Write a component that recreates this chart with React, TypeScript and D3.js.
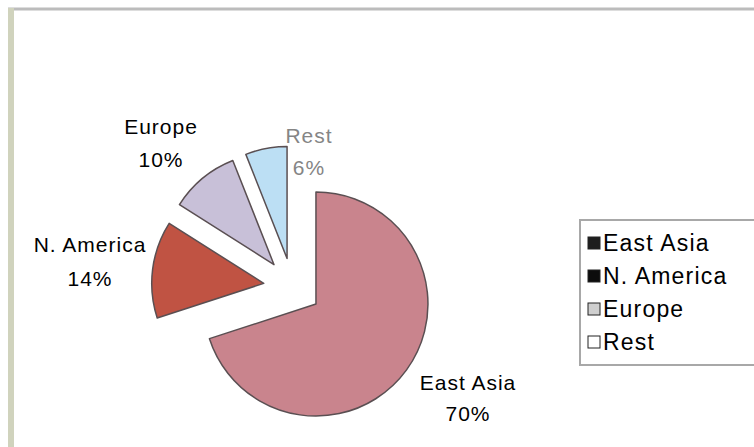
import React from "react";
import * as d3 from "d3";

const categories = ["East Asia", "N. America", "Europe", "Rest"];
const values = [70, 14, 10, 6];
const labels = ["70%", "14%", "10%", "6%"];

const sliceColors = ["#c9848d", "#c05343", "#c8c0d8", "#bcdff4"];
const legendSwatch = ["#1e1e1e", "#0c0c0c", "#cfcfcf", "#ffffff"];

const W = 754;
const H = 447;
const cx = 292.5;
const cy = 287;
const R = 112;
const explode = 29;

const labelPos: { [k: string]: { x: number; y1: number; y2: number; color: string } } = {
  "East Asia": { x: 468, y1: 390, y2: 421, color: "#000" },
  "N. America": { x: 90, y1: 252, y2: 286, color: "#000" },
  Europe: { x: 161, y1: 134, y2: 167, color: "#000" },
  Rest: { x: 309, y1: 143, y2: 175, color: "#858585" },
};

export default function App() {
  const pie = d3
    .pie<number>()
    .sort(null)
    .startAngle(0)
    .endAngle(2 * Math.PI)
    .value((d) => d);
  const arcs = pie(values);
  const arc = d3.arc<d3.PieArcDatum<number>>().innerRadius(0).outerRadius(R);

  return (
    <svg
      width={W}
      height={H}
      style={{ position: "absolute", left: 0, top: 0, background: "#fff" }}
      fontFamily="'Liberation Sans', Arial, sans-serif"
    >
      <rect x={0} y={0} width={W} height={H} fill="#fff" />
      <line x1={8} y1={9} x2={W} y2={9} stroke="#bcbcbc" strokeWidth={3} />
      <line x1={11} y1={8} x2={11} y2={H} stroke="#d0d3bd" strokeWidth={6} />
      {arcs.map((a, i) => {
        const mid = (a.startAngle + a.endAngle) / 2;
        const dx = Math.sin(mid) * explode;
        const dy = -Math.cos(mid) * explode;
        return (
          <path
            key={categories[i]}
            d={arc(a) || ""}
            transform={`translate(${cx + dx},${cy + dy})`}
            fill={sliceColors[i]}
            stroke="#5a4f52"
            strokeWidth={1.5}
            strokeLinejoin="round"
          />
        );
      })}
      {categories.map((c, i) => {
        const p = labelPos[c];
        return (
          <g key={c} fill={p.color} fontSize={21} textAnchor="middle" letterSpacing={1}>
            <text x={p.x} y={p.y1}>{c}</text>
            <text x={p.x} y={p.y2}>{labels[i]}</text>
          </g>
        );
      })}
      <rect x={580} y={220} width={190} height={145} fill="#fff" stroke="#a8a8a8" strokeWidth={2} />
      {categories.map((c, i) => {
        const y = 243 + i * 33;
        return (
          <g key={c}>
            <rect
              x={588}
              y={y - 6}
              width={12}
              height={12}
              fill={legendSwatch[i]}
              stroke="#222"
              strokeWidth={1}
            />
            <text x={603} y={y + 8} fontSize={23} fill="#000" letterSpacing={1.2}>
              {c}
            </text>
          </g>
        );
      })}
    </svg>
  );
}
